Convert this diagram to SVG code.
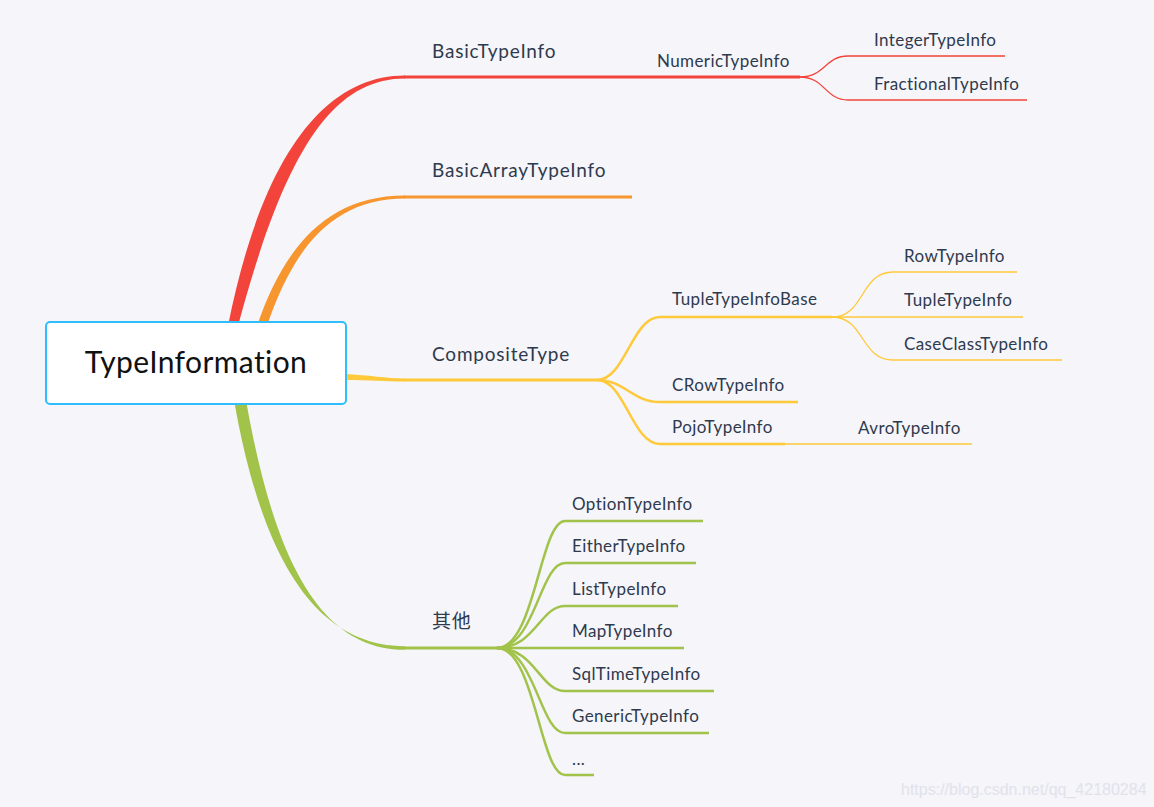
<svg xmlns="http://www.w3.org/2000/svg" width="1154" height="807" viewBox="0 0 1154 807">
<style>
text{font-variant-ligatures:none}
.lbl{font-family:Lato,"Noto Sans CJK SC",sans-serif;fill:#2f3a4d}
.l1{font-size:19px;letter-spacing:0.8px}
.l2{font-size:17px;letter-spacing:0.4px}
.w{fill:none;stroke-linecap:butt}
.red{stroke:#f2443a}
.org{stroke:#f7952e}
.yel{stroke:#ffc93a}
.grn{stroke:#a1c349}
.t3{stroke-width:3}
.t2{stroke-width:2.5}
.t1{stroke-width:1.3}
</style>
<rect x="0" y="0" width="1154" height="807" fill="#f5f5fa"/>
<g id="connectors">
  <path d="M228,326 C 262,155 325,75.5 405,75.5 L 405,78.5 C 333,78.5 285,150 238,326 Z" fill="#f2443a"/>
  <path class="w red t3" d="M404,77 L800,77"/>
  <path class="w red t1" d="M800,77 C 825,77 825,56 848,56 L1005,56"/>
  <path class="w red t1" d="M800,77 C 825,77 825,100 848,100 L1027,100"/>
  <path d="M257,326 C 283,250 325,195.5 405,195.5 L 405,198.5 C 330,198.5 292,252 267,326 Z" fill="#f7952e"/>
  <path class="w org t3" d="M404,197 L632,197"/>
  <path d="M344,374 C 370,375 385,378.5 405,378.5 L405,381.5 C 385,381.5 370,380 344,380 Z" fill="#ffc93a"/>
  <path class="w yel t3" d="M404,380 L598,380"/>
  <path class="w yel t2" d="M597,380 C 625,380 632,317 660,317 L832,317"/>
  <path class="w yel t2" d="M597,380 C 625,380 632,402 660,402 L798,402"/>
  <path class="w yel t2" d="M597,380 C 625,380 632,444 660,444 L785,444"/>
  <path class="w yel t1" d="M784,444 L972,444"/>
  <path class="w yel t1" d="M832,317 C 865,317 860,272 893,272 L1017,272"/>
  <path class="w yel t1" d="M832,317 L1023,317"/>
  <path class="w yel t1" d="M832,317 C 865,317 860,360 893,360 L1062,360"/>
  <path d="M234,400 C 262,560 316,646 405,646.2 L405,649.8 C 320,650 274,560 246,400 Z" fill="#a1c349"/>
  <path class="w grn t3" d="M404,648 L498,648"/>
  <path class="w grn t2" d="M497,648 C 535,648 540,521 565,521 L703,521"/>
  <path class="w grn t2" d="M497,648 C 535,648 540,563 565,563 L696,563"/>
  <path class="w grn t2" d="M497,648 C 535,648 540,606 565,606 L678,606"/>
  <path class="w grn t2" d="M497,648 L684,648"/>
  <path class="w grn t2" d="M497,648 C 535,648 540,691 565,691 L714,691"/>
  <path class="w grn t2" d="M497,648 C 535,648 540,733 565,733 L709,733"/>
  <path class="w grn t2" d="M497,648 C 535,648 540,775 565,775 L594,775"/>
</g>
<g id="root">
  <rect x="46" y="322" width="300" height="82" rx="4" fill="#ffffff" stroke="#2ebdff" stroke-width="2"/>
  <text x="196" y="373" text-anchor="middle" font-family="Lato, sans-serif" font-size="30" letter-spacing="0.4" fill="#111111">TypeInformation</text>
</g>
<g id="n-basic"><text class="lbl l1" x="432" y="58">BasicTypeInfo</text></g>
<g id="n-numeric"><text class="lbl l2" x="657" y="67">NumericTypeInfo</text></g>
<g id="n-integer"><text class="lbl l2" x="874" y="46">IntegerTypeInfo</text></g>
<g id="n-fractional"><text class="lbl l2" x="874" y="90">FractionalTypeInfo</text></g>
<g id="n-basicarray"><text class="lbl l1" x="432" y="177">BasicArrayTypeInfo</text></g>
<g id="n-composite"><text class="lbl l1" x="432" y="361">CompositeType</text></g>
<g id="n-tuplebase"><text class="lbl l2" x="672" y="305">TupleTypeInfoBase</text></g>
<g id="n-row"><text class="lbl l2" x="904" y="262">RowTypeInfo</text></g>
<g id="n-tuple"><text class="lbl l2" x="904" y="306">TupleTypeInfo</text></g>
<g id="n-caseclass"><text class="lbl l2" x="904" y="350">CaseClassTypeInfo</text></g>
<g id="n-crow"><text class="lbl l2" x="672" y="391">CRowTypeInfo</text></g>
<g id="n-pojo"><text class="lbl l2" x="672" y="433">PojoTypeInfo</text></g>
<g id="n-avro"><text class="lbl l2" x="858" y="434">AvroTypeInfo</text></g>
<g id="n-other"><text class="lbl l1" x="432" y="628">其他</text></g>
<g id="n-option"><text class="lbl l2" x="572" y="510">OptionTypeInfo</text></g>
<g id="n-either"><text class="lbl l2" x="572" y="552">EitherTypeInfo</text></g>
<g id="n-list"><text class="lbl l2" x="572" y="595">ListTypeInfo</text></g>
<g id="n-map"><text class="lbl l2" x="572" y="637">MapTypeInfo</text></g>
<g id="n-sqltime"><text class="lbl l2" x="572" y="680">SqlTimeTypeInfo</text></g>
<g id="n-generic"><text class="lbl l2" x="572" y="722">GenericTypeInfo</text></g>
<g id="n-more"><text class="lbl l2" x="572" y="765">...</text></g>
<text x="901" y="795" font-family="Liberation Sans, Arial, sans-serif" font-size="16" fill="#e2e2ea">https://blog.csdn.net/qq_42180284</text>
</svg>
